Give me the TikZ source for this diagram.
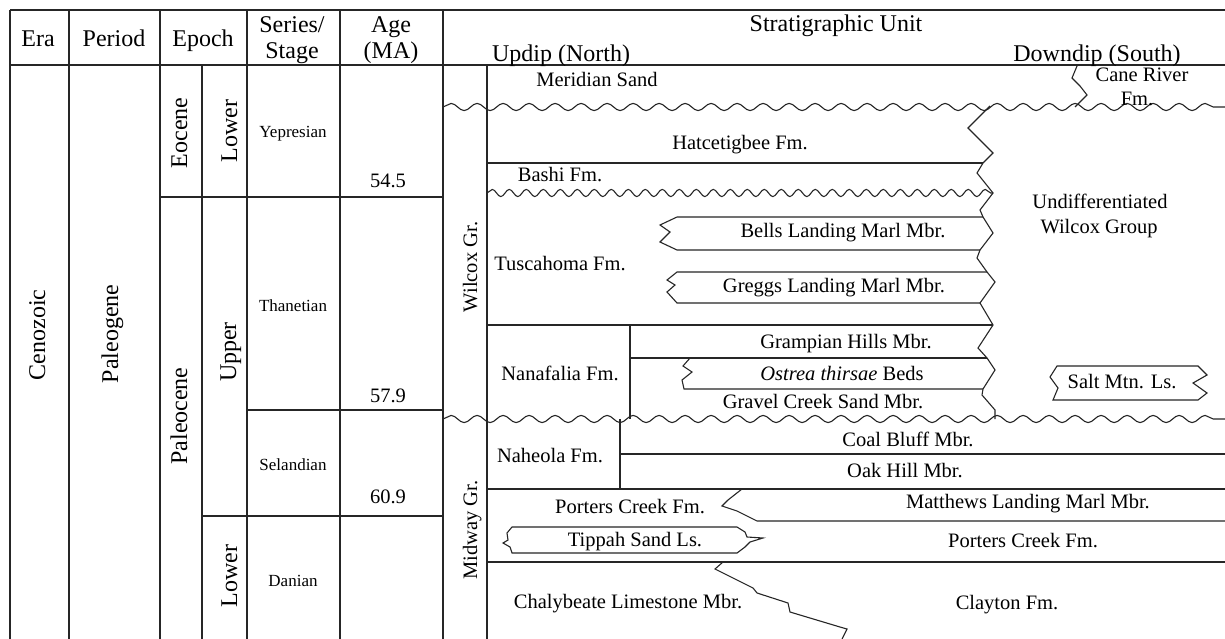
\documentclass[tikz,border=0pt]{standalone}
\usepackage{fontspec}
\setmainfont{Liberation Serif}
\usetikzlibrary{decorations.pathmorphing}
\tikzset{
  tline/.style={line width=1.1pt, black!85, line join=miter},
  wavebig/.style={tline, decorate, decoration={snake, segment length=26pt, amplitude=3.6pt}},
  wavesmall/.style={tline, decorate, decoration={snake, segment length=17pt, amplitude=3.6pt}},
  hdr/.style={font=\fontsize{24}{28}\selectfont, anchor=base, inner sep=0pt},
  txt/.style={font=\fontsize{20.5}{24}\selectfont, anchor=base, inner sep=0pt},
  sml/.style={font=\fontsize{17}{20}\selectfont, anchor=base, inner sep=0pt},
  rot/.style={hdr, rotate=90},
  rotb/.style={txt, rotate=90}
}
\begin{document}
\begin{tikzpicture}[x=1pt,y=-1pt]
\useasboundingbox (0,0) rectangle (1225,639);
\fill[white] (0,0) rectangle (1225,639);

% ---------- frame and columns ----------
\draw[tline] (10,10) -- (1225,10);
\draw[tline] (10,65) -- (1225,65);
\foreach \xx in {10,69,160,247,340,443}
  \draw[tline] (\xx,10) -- (\xx,639);
\draw[tline] (202,65) -- (202,639);
\draw[tline] (487,65) -- (487,639);
\draw[tline] (160,197) -- (443,197);
\draw[tline] (247,410) -- (443,410);
\draw[tline] (202,516) -- (443,516);

% ---------- header ----------
\node[hdr] (hEra) at (38,47) {Era};
\node[hdr] (hPer) at (114,47) {Period};
\node[hdr] (hEpo) at (203,47) {Epoch};
\node[hdr] (hSer) at (292,33) {Series/};
\node[hdr] (hSta) at (292,59) {Stage};
\node[hdr] (hAge) at (391,33) {Age};
\node[hdr] (hMA) at (391,59) {(MA)};
\node[hdr] (hSU) at (836,32) {Stratigraphic Unit};
\node[hdr] (hUp) at (561,62) {Updip (North)};
\node[hdr] (hDown) at (1097,62) {Downdip (South)};

% ---------- left columns ----------
\node[rot] (era) at (45,335) {Cenozoic};
\node[rot] (per) at (118,334) {Paleogene};
\node[rot] (eoc) at (187,133) {Eocene};
\node[rot] (low1) at (237,131) {Lower};
\node[rot] (pal) at (187,416) {Paleocene};
\node[rot] (upp) at (236,352) {Upper};
\node[rot] (low2) at (237,576) {Lower};
\node[sml] (yep) at (293,138) {Yepresian};
\node[sml] (tha) at (293,311) {Thanetian};
\node[sml] (sel) at (293,470) {Selandian};
\node[sml] (dan) at (293,586) {Danian};
\node[txt] (a1) at (388,187) {54.5};
\node[txt] (a2) at (388,402) {57.9};
\node[txt] (a3) at (388,503) {60.9};
\node[rotb] (wil) at (477,267) {Wilcox Gr.};
\node[rotb] (mid) at (477,530) {Midway Gr.};

% ---------- unconformities ----------
\draw[wavebig] (443,107) -- (1225,107);
\draw[wavesmall] (487,193) -- (993,193);
\draw[wavebig] (443,419) -- (1225,419);

% ---------- big zigzag (Wilcox facies boundary) ----------
\coordinate (z1) at (990,106);
\coordinate (z2) at (968,128);
\coordinate (z3) at (993,153);
\coordinate (z4) at (983,163);
\coordinate (z5) at (977,173);
\coordinate (z6) at (993,193);
\coordinate (z7) at (980,210);
\coordinate (z8) at (983,217);
\coordinate (z9) at (993,233);
\coordinate (z10) at (980,250);
\coordinate (z11) at (977,258);
\coordinate (z12) at (987,272);
\coordinate (z13) at (995,282);
\coordinate (z14) at (980,303);
\coordinate (z15) at (993,325);
\coordinate (z16) at (978,348);
\coordinate (z17) at (987,358);
\coordinate (z18) at (995,370);
\coordinate (z19) at (983,389);
\coordinate (z20) at (982,395);
\coordinate (z21) at (995,410);
\coordinate (z22) at (995,419);
\draw[tline] (z1)--(z2)--(z3)--(z4)--(z5)--(z6)--(z7)--(z8)--(z9)--(z10)--(z11)--(z12)--(z13)--(z14)--(z15)--(z16)--(z17)--(z18)--(z19)--(z20)--(z21)--(z22);

% Hatcetigbee / Bashi
\draw[tline] (487,163) -- (z4);
% Tuscahoma / Nanafalia
\draw[tline] (487,325) -- (z15);
% Bells Landing lens
\draw[tline] (z8) -- (677,217) -- (660,225) -- (670,232) -- (660,242) -- (677,250) -- (z10);
% Greggs Landing lens
\draw[tline] (z12) -- (677,272) -- (667,280) -- (675,285) -- (667,292) -- (677,303) -- (z14);
% Nanafalia members
\draw[tline] (630,325) -- (630,419);
\draw[tline] (630,358) -- (z17);
\draw[tline] (z19) -- (684,389) -- (682,380) -- (692,372) -- (683,366) -- (690,358);

% Cane River
\draw[tline] (1077,66) -- (1072,78) -- (1080,86) -- (1087,95) -- (1075,107);

% Salt Mtn lens
\draw[tline] (1057,366) -- (1198,366) -- (1207,375) -- (1193,383) -- (1207,393) -- (1198,400)
  -- (1053,400) -- (1058,388) -- (1050,377) -- cycle;

% ---------- Midway ----------
\draw[tline] (620,419) -- (620,489);
\draw[tline] (620,454) -- (1225,454);
\draw[tline] (487,489) -- (1225,489);
\draw[tline] (742,489) -- (728,500) -- (722,506) -- (737,511) -- (757,521) -- (1225,521);
\draw[tline] (487,562) -- (1225,562);
% Tippah lens
\draw[tline] (512,527) -- (737,527) -- (745,532) -- (747,537) -- (763,538) -- (750,542) -- (745,547) -- (737,553)
  -- (512,553) -- (510,547) -- (503,543) -- (508,540) -- (507,533) -- cycle;
% Chalybeate / Clayton
\draw[tline] (723,562) -- (715,569) -- (753,588) -- (757,593) -- (788,603) -- (790,612) -- (840,627) -- (847,629) -- (842,639);

% ---------- unit labels ----------
\node[txt] (mer) at (597,87) {Meridian Sand};
\node[txt] (cr1) at (1142,82) {Cane River};
\node[txt] (cr2) at (1137,106) {Fm.};
\node[txt] (hat) at (740,150) {Hatcetigbee Fm.};
\node[txt] (bas) at (560,182) {Bashi Fm.};
\node[txt] (und1) at (1100,208) {Undifferentiated};
\node[txt] (und2) at (1099,233) {Wilcox Group};
\node[txt] (tus) at (560,270) {Tuscahoma Fm.};
\node[txt] (bel) at (843,237) {Bells Landing Marl Mbr.};
\node[txt] (gre) at (834,292) {Greggs Landing Marl Mbr.};
\node[txt] (gra) at (846,348) {Grampian Hills Mbr.};
\node[txt] (ost) at (842,380) {\textit{Ostrea thirsae} Beds};
\node[txt] (grv) at (823,408) {Gravel Creek Sand Mbr.};
\node[txt] (nan) at (560,380) {Nanafalia Fm.};
\node[txt] (sal) at (1122,388) {Salt Mtn. Ls.};
\node[txt] (nah) at (550,462) {Naheola Fm.};
\node[txt] (coa) at (908,446) {Coal Bluff Mbr.};
\node[txt] (oak) at (905,477) {Oak Hill Mbr.};
\node[txt] (pcl) at (630,513) {Porters Creek Fm.};
\node[txt] (mat) at (1028,508) {Matthews Landing Marl Mbr.};
\node[txt] (tip) at (635,546) {Tippah Sand Ls.};
\node[txt] (pcr) at (1023,547) {Porters Creek Fm.};
\node[txt] (cha) at (628,608) {Chalybeate Limestone Mbr.};
\node[txt] (cla) at (1007,609) {Clayton Fm.};
\end{tikzpicture}
\end{document}
